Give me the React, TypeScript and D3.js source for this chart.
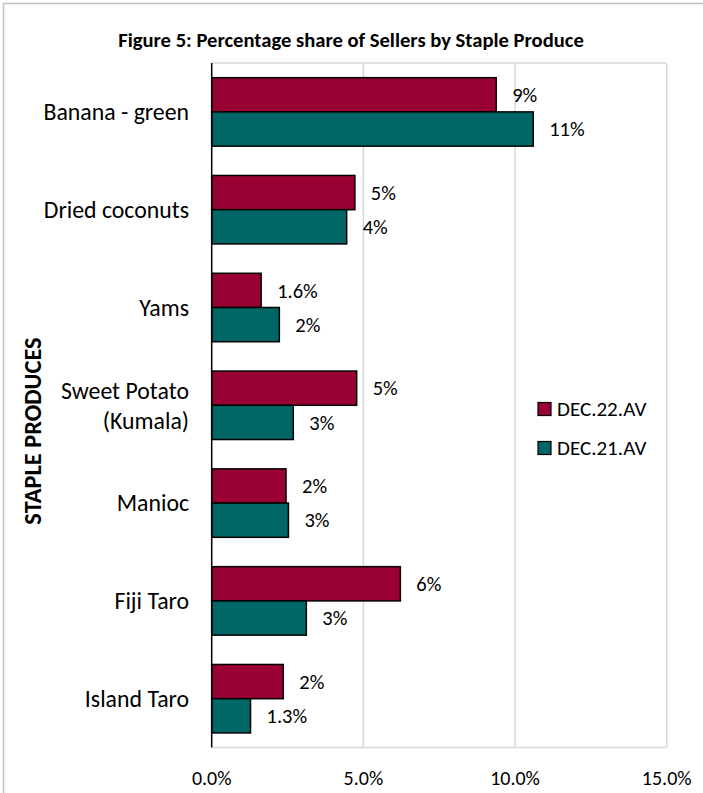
import React from 'react';
import * as d3 from 'd3';

const categories = ['Banana - green', 'Dried coconuts', 'Yams', 'Sweet Potato (Kumala)', 'Manioc', 'Fiji Taro', 'Island Taro'];
const categoryLines = [['Banana - green'], ['Dried coconuts'], ['Yams'], ['Sweet Potato', '(Kumala)'], ['Manioc'], ['Fiji Taro'], ['Island Taro']];
const seriesNames = ['DEC.22.AV', 'DEC.21.AV'];
const dec22 = [9.38, 4.72, 1.63, 4.78, 2.45, 6.22, 2.36];
const dec21 = [10.6, 4.45, 2.23, 2.69, 2.53, 3.12, 1.28];
const dec22Labels = ['9%', '5%', '1.6%', '5%', '2%', '6%', '2%'];
const dec21Labels = ['11%', '4%', '2%', '3%', '3%', '3%', '1.3%'];
const xTicks = [0, 5, 10, 15];
const colors = ['#990033', '#006666'];

const W = 703;
const H = 793;
const font = 'Carlito, Calibri, Lato, sans-serif';

export default function App() {
    const margin = { top: 63, left: 211.7, right: 703 - 666.7, bottom: 793 - 747.6 };
    const innerBottom = H - margin.bottom;
    const innerRight = W - margin.right;

    const x = d3.scaleLinear().domain([0, 15]).range([margin.left, innerRight]);
    const y = d3.scaleBand().domain(categories).range([margin.top, innerBottom]).paddingInner(0.3).paddingOuter(0.15);
    const ySub = d3.scaleBand().domain(seriesNames).range([0, y.bandwidth()]).padding(0);

    const series = [
        { name: seriesNames[0], values: dec22, labels: dec22Labels, color: colors[0] },
        { name: seriesNames[1], values: dec21, labels: dec21Labels, color: colors[1] },
    ];

    return (
        <div style={{ position: 'absolute', left: 0, top: 0 }}>
            <svg width={W} height={H} style={{ display: 'block', background: '#fff' }}>
                {/* outer chart border */}
                <rect x={3.5} y={3.5} width={W + 10} height={H + 10} fill="none" stroke="#bfbfbf" strokeWidth={1.5} />

                <text x={351} y={47} textAnchor="middle" fontFamily={font} fontWeight="bold" fontSize={20.6} fill="#000">
                    Figure 5: Percentage share of Sellers by Staple Produce
                </text>

                {/* plot area border + gridlines */}
                <line x1={margin.left} x2={innerRight} y1={margin.top} y2={margin.top} stroke="#d9d9d9" strokeWidth={1.5} />
                <line x1={margin.left} x2={innerRight} y1={innerBottom} y2={innerBottom} stroke="#d9d9d9" strokeWidth={1.5} />
                {xTicks.filter(t => t > 0).map(t => (
                    <line key={t} x1={x(t)} x2={x(t)} y1={margin.top} y2={innerBottom} stroke="#d9d9d9" strokeWidth={1.5} />
                ))}

                {/* bars */}
                {categories.map((c, i) => (
                    <g key={c}>
                        {series.map(s => {
                            const by = (y(c) ?? 0) + (ySub(s.name) ?? 0);
                            const bh = ySub.bandwidth();
                            return (
                                <g key={s.name}>
                                    <rect x={x(0)} y={by} width={x(s.values[i]) - x(0)} height={bh}
                                        fill={s.color} stroke="#000" strokeWidth={1.5} />
                                    <text x={x(s.values[i]) + 16} y={by + bh / 2} dy="0.35em"
                                        fontFamily={font} fontSize={20.5} fill="#000">{s.labels[i]}</text>
                                </g>
                            );
                        })}
                    </g>
                ))}

                {/* value axis line */}
                <line x1={margin.left} x2={margin.left} y1={margin.top} y2={innerBottom} stroke="#000" strokeWidth={1.5} />

                {/* category labels */}
                {categories.map((c, i) => {
                    const cy = (y(c) ?? 0) + y.bandwidth() / 2;
                    const lines = categoryLines[i];
                    const lh = 30;
                    return (
                        <text key={c} x={189} textAnchor="end" fontFamily={font} fontSize={23.8} fill="#000">
                            {lines.map((l, k) => (
                                <tspan key={k} x={189} y={cy + (k - (lines.length - 1) / 2) * lh} dy="0.35em">{l}</tspan>
                            ))}
                        </text>
                    );
                })}

                {/* x tick labels */}
                {xTicks.map(t => (
                    <text key={t} x={x(t)} y={778} dy="0.35em" textAnchor="middle" fontFamily={font} fontSize={20} fill="#000">
                        {d3.format('.1f')(t)}%
                    </text>
                ))}

                {/* axis title */}
                <text transform={`translate(32,431) rotate(-90)`} textAnchor="middle" dy="0.35em"
                    fontFamily={font} fontWeight="bold" fontSize={24.4} fill="#000">STAPLE PRODUCES</text>

                {/* legend */}
                {series.map((s, k) => (
                    <g key={s.name} transform={`translate(538,${409 + k * 39})`}>
                        <rect x={0} y={-6.5} width={13} height={13} fill={s.color} stroke="#000" strokeWidth={1.2} />
                        <text x={19} y={0} dy="0.35em" fontFamily={font} fontSize={21} fill="#000">{s.name}</text>
                    </g>
                ))}
            </svg>
        </div>
    );
}
